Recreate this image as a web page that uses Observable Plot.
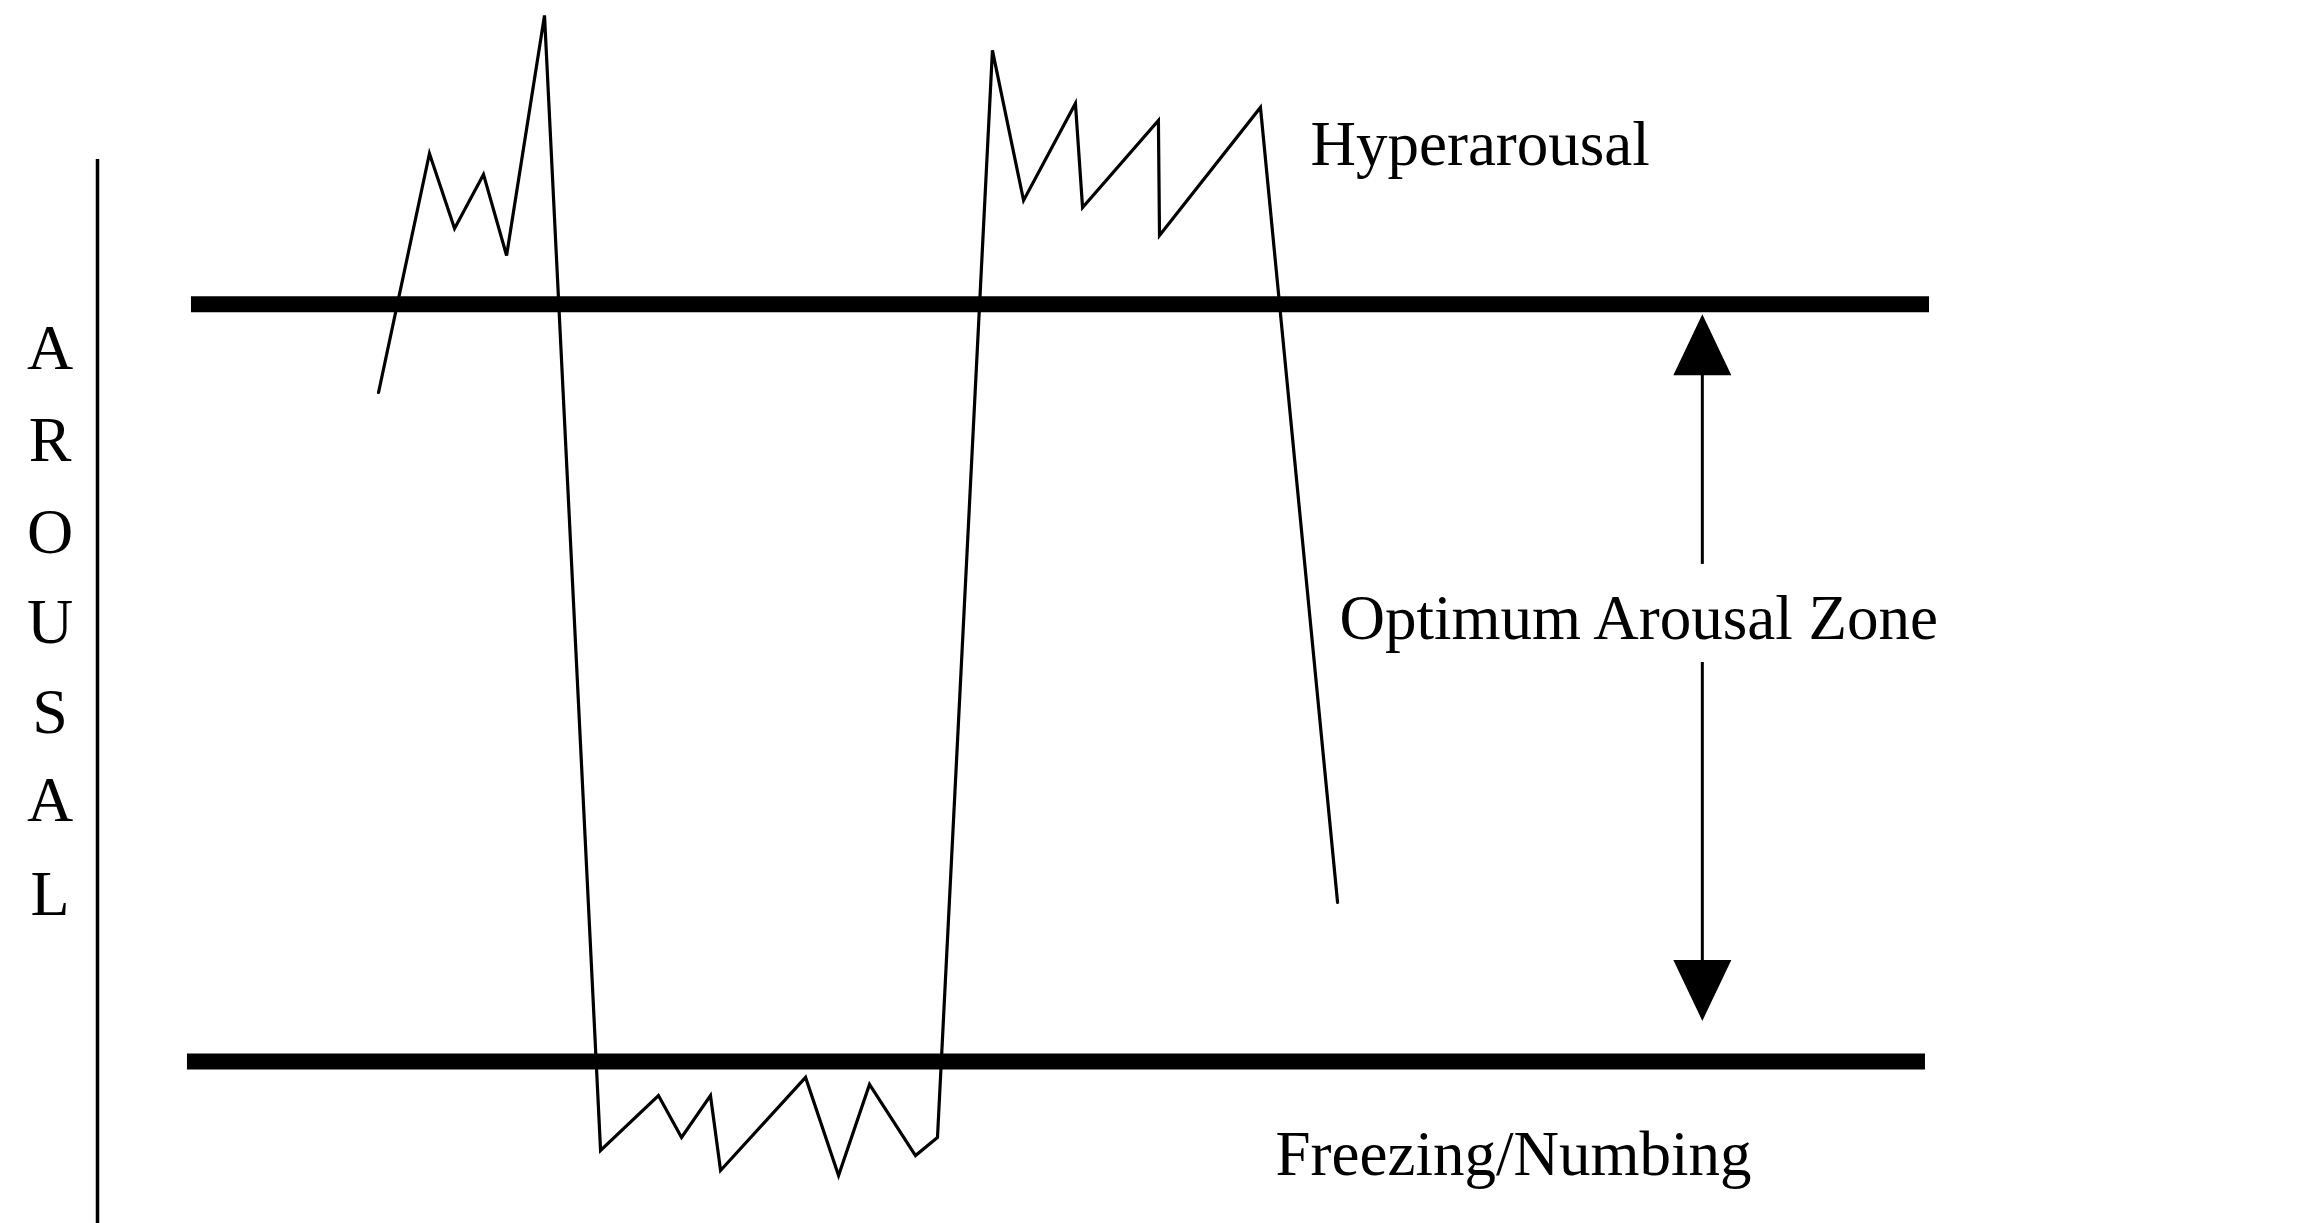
<!DOCTYPE html>
<html>
<head>
<meta charset="utf-8">
<script src="https://cdn.jsdelivr.net/npm/d3@7"></script>
<script src="https://cdn.jsdelivr.net/npm/@observablehq/plot@0.6"></script>
<style>
  html, body { margin: 0; padding: 0; background: #fff; overflow: hidden; }
  #chart svg { display: block; }
</style>
</head>
<body>
<div id="chart"></div>
<script>
// Arousal trace: time (x) vs arousal level (y); 0 = lower threshold, 100 = upper threshold
const traceTime    = [15.34, 18.12, 19.49, 21.07, 22.33, 24.40, 27.46, 30.62, 31.88, 33.46, 34.01, 38.65, 40.45, 42.14, 44.65, 45.85, 48.85, 50.55, 53.38, 53.77, 57.91, 57.97, 63.48, 67.69];
const traceArousal = [88.36, 119.93, 110.02, 117.16, 106.46, 138.16, -11.76, -4.49, -10.04, -4.49, -14.40, -2.11, -15.06, -3.04, -12.42, -10.04, 133.54, 113.72, 126.54, 112.80, 124.29, 109.10, 126.01, 21.00];

// Threshold lines (upper = hyperarousal limit, lower = freezing limit)
const thresholdLevel = [100, 0];
const thresholdStart = [5.13, 4.91];
const thresholdEnd   = [100, 99.78];

// Vertical axis
const axisTime = 0;
const axisTop = 119.14;
const axisBottom = -21.4;

// Optimum zone double arrow
const arrowTime = 87.6;
const arrowShaftTop    = [91.14, 52.70];
const arrowShaftBottom = [65.65, 13.21];
const arrowHeadLevel   = [94.67, 9.38];
const arrowHeadRotate  = [0, 180];

// Labels
const labelText    = ["Hyperarousal", "Optimum Arousal Zone", "Freezing/Numbing"];
const labelTime    = [66.21, 67.79, 64.30];
const labelArousal = [121.12, 58.51, -12.35];

// Vertical axis title letters
const axisLetters = ["A", "R", "O", "U", "S", "A", "L"];
const axisLetterTime = -2.59;
const axisLetterLevel = [94.11, 82.02, 69.87, 57.98, 46.10, 34.47, 22.06];

const trace = traceTime.map((t, i) => ({t, a: traceArousal[i]}));
const thresholds = thresholdLevel.map((y, i) => ({y, x1: thresholdStart[i], x2: thresholdEnd[i]}));
const shafts = arrowShaftTop.map((y1, i) => ({x: arrowTime, y1, y2: arrowShaftBottom[i]}));
const heads = arrowHeadLevel.map((y, i) => ({x: arrowTime, y, rot: arrowHeadRotate[i]}));
const labels = labelText.map((text, i) => ({text, x: labelTime[i], y: labelArousal[i]}));
const letters = axisLetters.map((text, i) => ({text, x: axisLetterTime, y: axisLetterLevel[i]}));

// Isosceles arrowhead symbol (tip up), width = 2r, height = 2.1r
const arrowHead = {
  draw(context, size) {
    const r = Math.sqrt(size / Math.PI);
    context.moveTo(0, -1.05 * r);
    context.lineTo(r, 1.05 * r);
    context.lineTo(-r, 1.05 * r);
    context.closePath();
  }
};

const font = "'Liberation Serif', 'Times New Roman', serif";

const chart = Plot.plot({
  width: 2308,
  height: 1223,
  marginLeft: 97,
  marginRight: 379,
  marginTop: 1,
  marginBottom: 0,
  x: {domain: [0, 100], axis: null},
  y: {domain: [-21.4, 140], axis: null},
  style: {background: "#fff"},
  marks: [
    Plot.ruleX([{x: axisTime, y1: axisTop, y2: axisBottom}], {x: "x", y1: "y1", y2: "y2", stroke: "black", strokeWidth: 3.5, clip: false}),
    Plot.ruleY(thresholds, {y: "y", x1: "x1", x2: "x2", stroke: "black", strokeWidth: 16}),
    Plot.line(trace, {x: "t", y: "a", stroke: "black", strokeWidth: 3.2, strokeLinejoin: "miter", strokeMiterlimit: 4}),
    Plot.ruleX(shafts, {x: "x", y1: "y1", y2: "y2", stroke: "black", strokeWidth: 3}),
    Plot.dot(heads, {x: "x", y: "y", rotate: "rot", symbol: arrowHead, r: 29, fill: "black", stroke: "none"}),
    Plot.text(labels, {x: "x", y: "y", text: "text", textAnchor: "start", lineAnchor: "middle", fontSize: 63, fontFamily: font, fill: "black"}),
    Plot.text(letters, {x: "x", y: "y", text: "text", textAnchor: "middle", lineAnchor: "middle", fontSize: 64, fontFamily: font, fill: "black", clip: false})
  ]
});

document.getElementById("chart").appendChild(chart);
</script>
</body>
</html>
